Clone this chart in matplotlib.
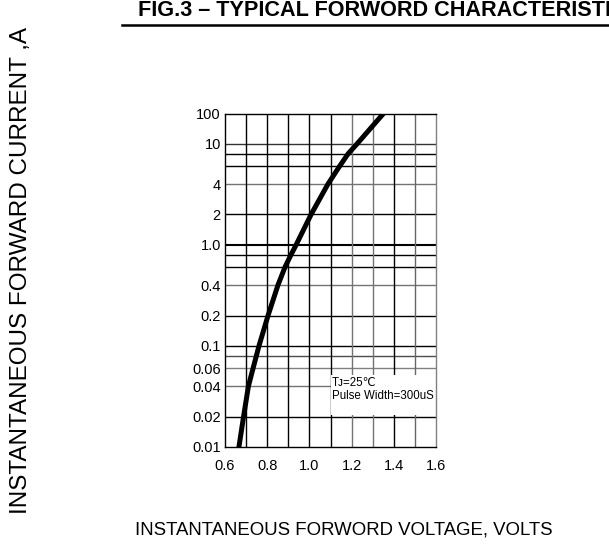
import numpy as np
import matplotlib
matplotlib.use("Agg")
import matplotlib.pyplot as plt
from matplotlib import font_manager
from matplotlib.patches import Rectangle

# curve
volts = [0.666, 0.688, 0.711, 0.733, 0.761, 0.804, 0.851, 0.884, 0.913,
         0.937, 1.008, 1.088, 1.143, 1.184, 1.226, 1.349]
amps = [0.01, 0.02, 0.04, 0.06, 0.1, 0.2, 0.4, 0.6, 0.8,
        1.0, 2, 4, 6, 8, 10, 100]

y_ticks = [0.01, 0.02, 0.04, 0.06, 0.1, 0.2, 0.4, 1.0, 2, 4, 10, 100]
y_labels = ["0.01", "0.02", "0.04", "0.06", "0.1", "0.2", "0.4", "1.0", "2", "4", "10", "100"]
x_ticks = [0.6, 0.8, 1.0, 1.2, 1.4, 1.6]
x_labels = ["0.6", "0.8", "1.0", "1.2", "1.4", "1.6"]

h_grid = [0.02, 0.04, 0.06, 0.08, 0.1, 0.2, 0.4, 0.6, 0.8, 1.0, 2, 4, 6, 8, 10]
v_grid = [0.7, 0.8, 0.9, 1.0, 1.1, 1.2, 1.3, 1.4, 1.5]

h_col = ["k", "0.45", "0.5", "0.3", "k", "k", "0.45", "k", "k", "k", "k", "0.45", "k", "k", "0.2"]
v_col = ["k", "k", "k", "k", "k", "0.45", "0.45", "k", "0.4"]

names = {f.name for f in font_manager.fontManager.ttflist}
base = "Liberation Sans" if "Liberation Sans" in names else "DejaVu Sans"
plt.rcParams["font.family"] = [base, "DejaVu Sans"]

# decades below 10 are regular log, the top decade (10..100) is squeezed
TOP = 0.295


def fwd(y):
    y = np.clip(np.asarray(y, dtype=float), 1e-9, None)
    l = np.log10(y)
    return np.where(l <= 1, l, 1 + (l - 1) * TOP)


def inv(z):
    z = np.asarray(z, dtype=float)
    return np.where(z <= 1, 10 ** z, 10 ** (1 + (z - 1) / TOP))


fig = plt.figure(figsize=(6.09, 5.46), dpi=100)
ax = fig.add_axes([225 / 609, 1 - 447 / 546, 211 / 609, 333 / 546])
ax.set_yscale("function", functions=(fwd, inv))
ax.set_xlim(0.6, 1.6)
ax.set_ylim(0.01, 100)

for y, c in zip(h_grid, h_col):
    ax.axhline(y, color=c, lw=1.5 if y == 1.0 else 1.0, zorder=1)
for x, c in zip(v_grid, v_col):
    ax.axvline(x, color=c, lw=1.0, zorder=1)

# white label box that hides the grid
ax.add_patch(Rectangle((1.103, 0.0207), 0.5, 0.0517 - 0.0207, facecolor="white",
                       edgecolor="none", zorder=2))
ax.text(1.107, 0.043, "Tᴊ=25℃", fontsize=8.3, va="center", ha="left", zorder=3)
ax.text(1.107, 0.032, "Pulse Width=300uS", fontsize=8.3, va="center", ha="left", zorder=3)

ax.plot(volts, amps, color="k", lw=3.6, solid_capstyle="round",
        solid_joinstyle="round", zorder=4)

ax.set_yticks(y_ticks)
ax.set_yticklabels(y_labels)
ax.yaxis.set_minor_locator(matplotlib.ticker.NullLocator())
ax.set_xticks(x_ticks)
ax.set_xticklabels(x_labels)
ax.tick_params(axis="both", length=0, labelsize=10.5)
ax.tick_params(axis="y", pad=3)
ax.tick_params(axis="x", pad=9)
for s in ["left", "bottom", "top"]:
    ax.spines[s].set_color("k")
    ax.spines[s].set_linewidth(1.0)
ax.spines["right"].set_color("0.5")
ax.spines["right"].set_linewidth(1.0)

# the datasheet title runs off the right edge, as in the original
fig.text(138 / 609, 1 - 11 / 546, "FIG.3 – TYPICAL FORWORD CHARACTERISTICS",
         fontsize=15.6, fontweight="bold", ha="left", va="center")
fig.add_artist(plt.Line2D([122 / 609, 1.0], [1 - 25 / 546, 1 - 25 / 546],
                          color="k", lw=1.8))
fig.text(344 / 609, 1 - 530 / 546, "INSTANTANEOUS FORWORD VOLTAGE, VOLTS",
         fontsize=13.4, ha="center", va="center")
fig.text(21 / 609, 1 - 271 / 546, "INSTANTANEOUS FORWARD CURRENT ,A",
         fontsize=17.5, rotation=90, ha="center", va="center")

fig.savefig("out.png", dpi=100)
